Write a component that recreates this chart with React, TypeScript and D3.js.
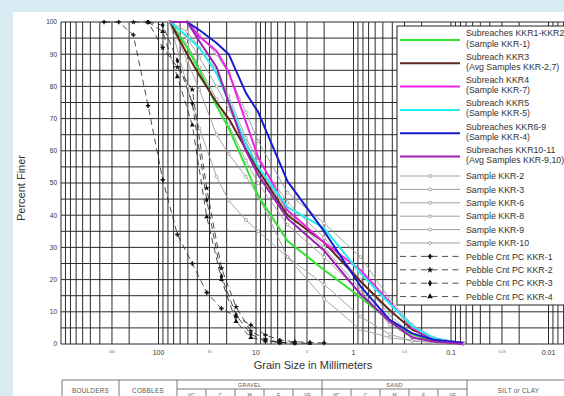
import React from "react";
import * as d3 from "d3";

const W = 564;
const H = 396;
const FONT = "'Liberation Sans', Arial, sans-serif";

// sieve sizes (mm) for the bulk samples
const sieveSizes = [76.2, 50.8, 38.1, 25.4, 19.05, 12.7, 9.5, 4.75, 2.0, 0.85, 0.425, 0.25, 0.15, 0.075];

// subreach curves (percent finer at each sieve)
const kkr1 = [100, 92, 85, 74, 67, 55, 46, 32, 23, 14.5, 7.2, 3.1, 1.0, 0.2];
const kkr3Avg = [100, 90, 83.5, 75, 70, 60.5, 54, 40, 31.5, 19.5, 10.5, 4.5, 1.5, 0.3];
const kkr7 = [100, 100, 95.5, 91, 84.5, 69, 58, 41.5, 31.5, 23, 13, 5, 1.5, 0.2];
const kkr5 = [100, 95.5, 92, 84, 75.5, 62, 55, 42.5, 36, 22, 12.5, 5.5, 1.8, 0];
const kkr4 = [100, 100, 97.5, 93.5, 90, 78, 72, 50.5, 35, 18, 7.5, 3.3, 1.3, 0.3];
const kkr910Avg = [100, 100, 94, 86, 75, 60, 52.5, 39, 29, 15.5, 7, 2, 0.8, 0];

// individual samples
const kkr2 = [100, 80, 67, 52, 44.5, 38.5, 35, 27, 14, 4.5, 2, 1, 0.5, 0.2];
const kkr3 = [100, 88, 79, 65, 59, 52, 46, 27, 18.5, 8.5, 3, 1, 0.5, 0.2];
const kkr6 = [100, 93, 86, 76, 68, 57, 50, 37, 27, 16, 7, 2.5, 1, 0.2];
const kkr8 = [100, 95, 89, 80, 73, 63, 55, 41, 30, 17, 6, 2, 0.8, 0];
const kkr9 = [100, 100, 96, 90, 84, 72, 63, 47, 37.5, 27, 14, 6, 2, 0.3];
const kkr10 = [100, 97, 92, 85, 77, 64, 57, 44, 33, 20, 9, 3, 1, 0.2];

// pebble counts, half-phi classes (mm)
const pcSizes = [362, 256, 181, 128, 90.5, 64, 45, 32, 22.6, 16, 11.3, 8, 5.7, 4, 2.8, 2];
const pc1 = [100, 100, 96, 74, 51, 34, 25, 16, 11, 8.5, 5.9, 2.8, 1.2, 0.7, 0.5, 0.3];
const pc2 = [null, null, 100, 100, 92, 86, 79, 48.4, 23.5, 11.5, 4, 1.5, 0.5, null, null, null];
const pc3 = [null, null, null, 100, 99, 88, 74.7, 44.7, 21, 9, 3, 1, 0.5, 0.3, null, null];
const pc4 = [null, null, null, 100, 97, 83, 68, 39.5, 20, 7, 2, 1, 0.5, 0.3, 0.2, null];

const yTicks = [0, 10, 20, 30, 40, 50, 60, 70, 80, 90, 100];
const xTicks = [100, 10, 1, 0.1, 0.01];
const xTicksSmall = [300, 30, 3, 0.3, 0.03];

const classNames = ["BOULDERS", "COBBLES", "GRAVEL", "SAND", "SILT or CLAY"];
const classBounds = [1000, 256, 64, 2, 0.0625, 0.001];
const subNames = ["VC", "C", "M", "F", "VF"];
const gravelBounds = [64, 32, 16, 8, 4, 2];
const sandBounds = [2, 1, 0.5, 0.25, 0.125, 0.0625];

const bulkSeries = [
  { label: ["Subreaches KKR1-KKR2", "(Sample KKR-1)"], values: kkr1, color: "#2fe52f" },
  { label: ["Subreach KKR3", "(Avg Samples KKR-2,7)"], values: kkr3Avg, color: "#5e2a1e" },
  { label: ["Subreach KKR4", "(Sample KKR-7)"], values: kkr7, color: "#f020ee" },
  { label: ["Subreach KKR5", "(Sample KKR-5)"], values: kkr5, color: "#25ecec" },
  { label: ["Subreaches KKR6-9", "(Sample KKR-4)"], values: kkr4, color: "#1a1ad2" },
  { label: ["Subreaches KKR10-11", "(Avg Samples KKR-9,10)"], values: kkr910Avg, color: "#9b22b2" },
];

const sampleSeries = [
  { label: "Sample KKR-2", values: kkr2 },
  { label: "Sample KKR-3", values: kkr3 },
  { label: "Sample KKR-6", values: kkr6 },
  { label: "Sample KKR-8", values: kkr8 },
  { label: "Sample KKR-9", values: kkr9 },
  { label: "Sample KKR-10", values: kkr10 },
];

const pebbleSeries = [
  { label: "Pebble Cnt PC KKR-1", values: pc1, symbol: d3.symbolCross },
  { label: "Pebble Cnt PC KKR-2", values: pc2, symbol: d3.symbolStar },
  { label: "Pebble Cnt PC KKR-3", values: pc3, symbol: d3.symbolDiamond },
  { label: "Pebble Cnt PC KKR-4", values: pc4, symbol: d3.symbolTriangle },
];

export default function App() {
  const x = d3.scaleLog().domain([1000, 0.001]).range([61, 646]);
  const y = d3.scaleLinear().domain([0, 100]).range([344, 22]);
  // the classification table below is drawn slightly narrower than the plot
  const tx = d3.scaleLog().domain([1000, 0.0625]).range([62, 467]);

  const line = d3.line<[number, number]>()
    .x(d => x(d[0]))
    .y(d => y(d[1]));

  const pairs = (sizes: number[], vals: (number | null)[]) =>
    sizes.map((s, i) => [s, vals[i]] as [number, number]).filter(d => d[1] != null);

  const gridX: number[] = [1000];
  for (let k = -3; k <= 2; k++) {
    for (let m = 1; m <= 9; m++) gridX.push(m * Math.pow(10, k));
  }
  const gridY = d3.range(0, 101, 5);

  const legX = 397;
  const legTop = 26;
  const legBottom = 305;
  const lx0 = 400, lx1 = 460, ltext = 466;
  const bulkY = (i: number) => 40 + i * 23.3;
  const sampY = (i: number) => 176 + i * 13.4;
  const pebY = (i: number) => 256.4 + i * 13.4;

  const tTop = 380, tMid = 389, tBot = 404;

  return (
    <svg width={W} height={H} style={{ position: "absolute", left: 0, top: 0, fontFamily: FONT }}>
      <defs>
        <clipPath id="plotclip">
          <rect x={60} y={20} width={W - 60} height={330} />
        </clipPath>
      </defs>
      <rect x={0} y={0} width={W} height={H} fill="#d8eaf2" />
      <rect x={13} y={12} width={W - 13} height={H - 12} fill="#ffffff" />

      <g clipPath="url(#plotclip)">
        {gridY.map(v => (
          <line key={"gy" + v} x1={61} x2={W} y1={y(v)} y2={y(v)} stroke="#2b2b2b" strokeWidth={1} />
        ))}
        {gridX.map(v => (
          <line key={"gx" + v} x1={x(v)} x2={x(v)} y1={y(100)} y2={y(0)} stroke="#2b2b2b" strokeWidth={1} />
        ))}

        {sampleSeries.map(s => (
          <g key={s.label}>
            <path d={line(pairs(sieveSizes, s.values)) || ""} fill="none" stroke="#9c9c9c" strokeWidth={0.9} />
            {pairs(sieveSizes, s.values).map((d, i) => (
              <circle key={i} cx={x(d[0])} cy={y(d[1])} r={1.5} fill="#fff" stroke="#8c8c8c" strokeWidth={0.7} />
            ))}
          </g>
        ))}

        {pebbleSeries.map(s => (
          <g key={s.label}>
            <path d={line(pairs(pcSizes, s.values)) || ""} fill="none" stroke="#222" strokeWidth={0.8} strokeDasharray="6,4" />
            {pairs(pcSizes, s.values).map((d, i) => (
              <path key={i} transform={`translate(${x(d[0])},${y(d[1])})`} d={d3.symbol(s.symbol, 11)() || ""} fill="#111" />
            ))}
          </g>
        ))}

        {bulkSeries.map(s => (
          <path key={s.color} d={line(pairs(sieveSizes, s.values)) || ""} fill="none" stroke={s.color} strokeWidth={2} strokeLinejoin="round" />
        ))}
      </g>

      {yTicks.map(v => (
        <text key={"yt" + v} x={57} y={y(v) + 2.3} fontSize={6.5} fill="#333" textAnchor="end">{v}</text>
      ))}
      {xTicks.map(v => (
        <text key={"xt" + v} x={x(v)} y={355} fontSize={7} fill="#333" textAnchor="middle">{v}</text>
      ))}
      {xTicksSmall.map(v => (
        <text key={"xs" + v} x={x(v)} y={353} fontSize={3.5} fill="#666" textAnchor="middle">{v}</text>
      ))}

      <text x={313} y={369} fontSize={11} fill="#333" textAnchor="middle">Grain Size in Millimeters</text>
      <text transform="translate(25,188) rotate(-90)" fontSize={11} fill="#333" textAnchor="middle">Percent Finer</text>

      {/* legend */}
      <rect x={legX} y={legTop} width={W - legX + 5} height={legBottom - legTop} fill="#fff" stroke="#222" strokeWidth={1} />
      {bulkSeries.map((s, i) => (
        <g key={"lb" + i}>
          <line x1={lx0} x2={lx1} y1={bulkY(i)} y2={bulkY(i)} stroke={s.color} strokeWidth={2} />
          <text x={ltext} y={bulkY(i) - 3.6} fontSize={8.8} fill="#333">{s.label[0]}</text>
          <text x={ltext} y={bulkY(i) + 6.5} fontSize={8.8} fill="#333">{s.label[1]}</text>
        </g>
      ))}
      {sampleSeries.map((s, i) => (
        <g key={"ls" + i}>
          <line x1={lx0} x2={lx1} y1={sampY(i)} y2={sampY(i)} stroke="#888" strokeWidth={0.8} />
          <circle cx={430} cy={sampY(i)} r={1.5} fill="#fff" stroke="#888" strokeWidth={0.7} />
          <text x={ltext} y={sampY(i) + 3.2} fontSize={8.8} fill="#333">{s.label}</text>
        </g>
      ))}
      {pebbleSeries.map((s, i) => (
        <g key={"lp" + i}>
          <line x1={lx0} x2={lx1} y1={pebY(i)} y2={pebY(i)} stroke="#222" strokeWidth={0.8} strokeDasharray="6,4.5" />
          <path transform={`translate(430,${pebY(i)})`} d={d3.symbol(s.symbol, 14)() || ""} fill="#111" />
          <text x={ltext} y={pebY(i) + 3.2} fontSize={8.8} fill="#333">{s.label}</text>
        </g>
      ))}

      {/* classification table */}
      <g stroke="#555" strokeWidth={0.8} fill="none">
        <line x1={tx(1000)} x2={W} y1={tTop} y2={tTop} />
        <line x1={tx(64)} x2={tx(0.0625)} y1={tMid} y2={tMid} />
        {classBounds.slice(0, 5).map(b => (
          <line key={"cb" + b} x1={tx(b)} x2={tx(b)} y1={tTop} y2={tBot} />
        ))}
        {gravelBounds.slice(1, 5).concat(sandBounds.slice(1, 5)).map(b => (
          <line key={"sb" + b} x1={tx(b)} x2={tx(b)} y1={tMid} y2={tBot} />
        ))}
      </g>
      {classNames.map((n, i) => {
        const a = tx(classBounds[i]);
        const b = i === 4 ? 570 : tx(classBounds[i + 1]);
        const twoRow = i === 2 || i === 3;
        return (
          <text key={n} x={(a + b) / 2} y={twoRow ? 386.5 : 392.5} fontSize={twoRow ? 5.5 : 6.3} fill="#555" textAnchor="middle" letterSpacing={0.3}>{n}</text>
        );
      })}
      {[gravelBounds, sandBounds].map((bounds, k) =>
        subNames.map((n, i) => (
          <text key={k + n} x={(tx(bounds[i]) + tx(bounds[i + 1])) / 2} y={396.5} fontSize={5} fill="#555" textAnchor="middle">{n}</text>
        ))
      )}
    </svg>
  );
}
